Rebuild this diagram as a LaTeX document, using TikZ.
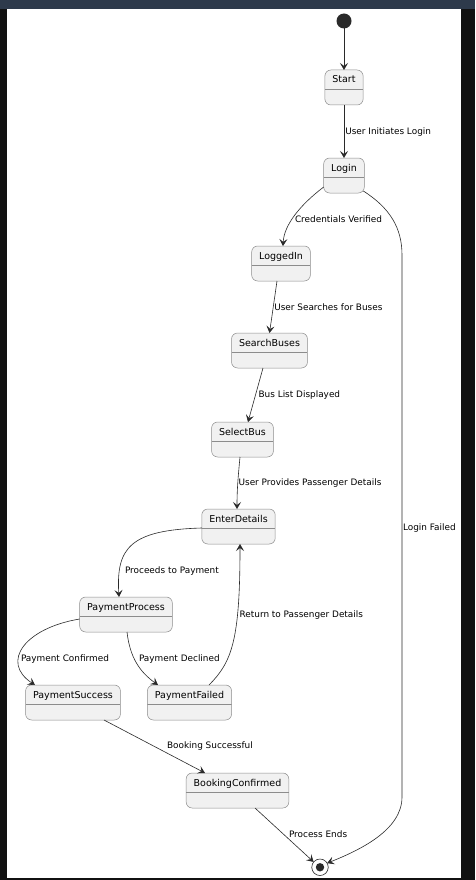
\documentclass[tikz,border=0pt]{standalone}
\usepackage{fontspec}
\setmainfont{DejaVu Sans}
\usepackage{tikz}
\usetikzlibrary{positioning}
\usetikzlibrary{arrows.meta}
\definecolor{boxfill}{HTML}{F1F1F1}
\definecolor{boxline}{HTML}{8C8C8C}
\definecolor{edgeline}{HTML}{2A2A2A}
\definecolor{framedark}{HTML}{111111}
\definecolor{topbar}{HTML}{2E3A4B}
\tikzset{
	statebox/.style={
		rectangle,
		draw=boxline,
		fill=boxfill,
		line width=.5pt,
		rounded corners=6pt,
		minimum height=35pt,
		inner xsep=7.5pt,
		inner ysep=0pt,
		outer sep=0pt,
		text height=7pt,
		text depth=16pt,
		font=\fontsize{9.5}{11}\selectfont,
		path picture={\draw[boxline, line width=.5pt] ([yshift=-19pt]path picture bounding box.north west) -- ([yshift=-19pt]path picture bounding box.north east);}
	},
	startdot/.style={
		circle,
		fill=edgeline,
		minimum size=15pt,
		inner sep=0pt,
		outer sep=0pt
	},
	enddot/.style={
		circle,
		draw=edgeline,
		line width=.6pt,
		minimum size=16.5pt,
		inner sep=0pt,
		outer sep=0pt,
		path picture={\fill[edgeline] (path picture bounding box.center) circle (4.2pt);}
	},
	flow/.style={
		draw=edgeline,
		line width=.6pt,
		-{Stealth[length=7pt, width=8pt, inset=3pt]}
	},
	lbl/.style={
		font=\fontsize{8.9}{10}\selectfont,
		inner sep=0pt,
		anchor=base west
	}
}
\begin{document}
\begin{tikzpicture}[x=1pt, y=-1pt]
	\useasboundingbox (0,0) rectangle (475,880);
	\fill[framedark] (0,0) rectangle (475,880);
	\fill[topbar] (0,0) rectangle (475,9.5);
	\fill[white] (7,9.5) rectangle (461,878);
	
	\draw node[startdot](Init) at (344,21){};
	\draw node[statebox, below=41.5pt of Init](Start){Start};
	\draw node[statebox, below=53pt of Start](Login){Login};
	\draw node[statebox, below=53pt of Login, xshift=-63pt](LoggedIn){LoggedIn};
	\draw node[statebox, below=52pt of LoggedIn, xshift=-11.5pt](SearchBuses){SearchBuses};
	\draw node[statebox, below=54pt of SearchBuses, xshift=-27pt](SelectBus){SelectBus};
	\draw node[statebox, below=52pt of SelectBus, xshift=-4pt](EnterDetails){EnterDetails};
	\draw node[statebox, below=53pt of EnterDetails, xshift=-112.5pt](PaymentProcess){PaymentProcess};
	\draw node[statebox, below=53pt of PaymentProcess, xshift=-53pt](PaymentSuccess){PaymentSuccess};
	\draw node[statebox, right=27pt of PaymentSuccess](PaymentFailed){PaymentFailed};
	\draw node[statebox, below=53pt of PaymentSuccess, xshift=164.5pt](BookingConfirmed){BookingConfirmed};
	\draw node[enddot, below=51pt of BookingConfirmed, xshift=82.5pt](Final){};
	
	\draw [flow] (Init) -- (Start);
	\draw [flow] (Start) -- (Login) node[lbl](tStart) at (345,134.5){User Initiates Login};
	\draw [flow] ([yshift=-11.5pt]Login.west) .. controls (300,205) and (284,225) .. ([xshift=2pt]LoggedIn.north) node[lbl](tLogin) at (294.7,222.3){Credentials Verified};
	\draw [flow] ([xshift=-1pt,yshift=2pt]Login.south east) .. controls (390,208) and (402,228) .. (402,255) -- (402,797) .. controls (402,830) and (360,850) .. (Final.30) node[lbl](tFailed) at (402.7,530){Login Failed};
	\draw [flow] ([xshift=-4pt]LoggedIn.south) -- (SearchBuses.north) node[lbl](tLogged) at (274,310.3){User Searches for Buses};
	\draw [flow] ([xshift=-6.5pt]SearchBuses.south) -- ([xshift=5.5pt]SelectBus.north) node[lbl](tSearch) at (258.3,397.3){Bus List Displayed};
	\draw [flow] ([xshift=-2.5pt]SelectBus.south) .. controls (238,478) and (237,490) .. ([xshift=-1.5pt]EnterDetails.north) node[lbl](tSelect) at (238.3,485.3){User Provides Passenger Details};
	\draw [flow] ([yshift=-1.5pt]EnterDetails.west) .. controls (130,530) and (116,548) .. ([xshift=-7pt]PaymentProcess.north) node[lbl](tEnter) at (124.7,573.3){Proceeds to Payment};
	\draw [flow] ([xshift=19.5pt]PaymentFailed.north) .. controls (232,662) and (240,640) .. ([xshift=1.5pt]EnterDetails.south) node[lbl](tReturn) at (239.3,617.6){Return to Passenger Details};
	\draw [flow] ([yshift=-4.5pt]PaymentProcess.west) .. controls (25,628) and (0,662) .. ([xshift=-38pt]PaymentSuccess.north) node[lbl](tConfirm) at (20.7,661.3){Payment Confirmed};
	\draw [flow] ([xshift=1pt]PaymentProcess.south) .. controls (130,658) and (140,672) .. ([xshift=-31.5pt]PaymentFailed.north) node[lbl](tDecline) at (138.7,661.3){Payment Declined};
	\draw [flow] ([xshift=31pt]PaymentSuccess.south) -- ([xshift=-32.5pt]BookingConfirmed.north) node[lbl](tBooking) at (166.7,748.6){Booking Successful};
	\draw [flow] ([xshift=17.5pt]BookingConfirmed.south) -- (Final.140) node[lbl](tEnds) at (288.7,837){Process Ends};
\end{tikzpicture}
\end{document}
